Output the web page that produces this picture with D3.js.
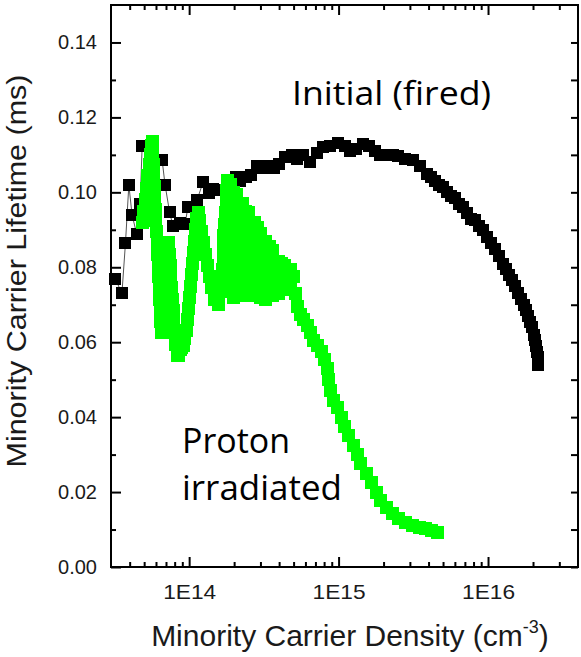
<!DOCTYPE html>
<html>
<head>
<meta charset="utf-8">
<script src="https://cdn.jsdelivr.net/npm/d3@7"></script>
<style>
  html, body { margin: 0; padding: 0; background: #fff; }
  svg { display: block; }
</style>
</head>
<body>
<svg id="chart" width="581" height="657"></svg>
<script>
// ---------------- DATA ----------------
const xMajorTicks = [1e14, 1e15, 1e16];
const xTickLabels = ["1E14", "1E15", "1E16"];
const xMinorTicks = [4e13,5e13,6e13,7e13,8e13,9e13,2e14,3e14,4e14,5e14,6e14,7e14,8e14,9e14,2e15,3e15,4e15,5e15,6e15,7e15,8e15,9e15,2e16,3e16];
const yMajorTicks = [0, 0.02, 0.04, 0.06, 0.08, 0.10, 0.12, 0.14];
const yTickLabels = ["0.00","0.02","0.04","0.06","0.08","0.10","0.12","0.14"];
const yMinorTicks = [0.01, 0.03, 0.05, 0.07, 0.09, 0.11, 0.13];

// Initial (fired): minority carrier density (cm^-3) and lifetime (ms)
const initialDensity = [3.2e13,3.55e13,3.75e13,3.95e13,4.15e13,4.45e13,4.7e13,4.85e13,5.6e13,6.6e13,6.9e13,7.4e13,7.8e13,8.7e13,9.4e13,9.8e13,1.13e14,1.24e14,1.35e14,1.45e14,1.6e14,1.75e14,1.9e14,2.05e14,2.2e14,2.4e14,2.6e14,2.85e14,3.1e14,3.4e14,3.7e14,4.0e14,4.4e14,4.9e14,5.3e14,5.8e14,6.4e14,7.2e14,7.9e14,8.7e14,9.9e14,1.1e15,1.19e15,1.3e15,1.45e15,1.6e15,1.75e15,1.9e15,2.1e15,2.3e15,2.5e15,2.8e15,3.15e15,3.5e15,
  3.91e15,4.17e15,4.42e15,4.7e15,5.0e15,5.3e15,5.66e15,6.0e15,6.4e15,6.8e15,7.2e15,7.7e15,8.2e15,8.7e15,9.26e15,9.9e15,1.05e16,1.11e16,1.19e16,1.26e16,1.32e16,1.38e16,1.45e16,1.52e16,1.59e16,1.66e16,1.74e16,1.79e16,1.86e16,1.91e16,1.97e16,2.03e16,2.06e16,2.1e16,2.13e16,2.16e16,2.16e16];
const initialLifetime = [0.077,0.073,0.0865,0.102,0.094,0.089,0.097,0.1125,0.110,0.1085,0.102,0.0947,0.091,0.0917,0.0915,0.096,0.098,0.1027,0.0997,0.101,0.1005,0.1005,0.1025,0.104,0.103,0.104,0.1045,0.107,0.1065,0.107,0.1065,0.1075,0.1095,0.110,0.109,0.110,0.108,0.1105,0.112,0.1125,0.1133,0.1125,0.111,0.1115,0.113,0.1125,0.111,0.110,0.110,0.110,0.1098,0.109,0.1085,0.107,
  0.105,0.104,0.103,0.102,0.1013,0.100,0.099,0.0985,0.097,0.096,0.0945,0.093,0.0925,0.091,0.090,0.088,0.0865,0.085,0.083,0.081,0.0795,0.078,0.0765,0.075,0.073,0.0715,0.070,0.0685,0.067,0.0655,0.064,0.062,0.0605,0.059,0.0575,0.056,0.054];

// Proton irradiated
const protonDensity = [4.85e13,4.95e13,5.08e13,5.2e13,5.3e13,5.4e13,5.48e13,5.58e13,5.66e13,5.7e13,5.75e13,5.8e13,5.85e13,5.9e13,5.95e13,6.0e13,6.05e13,6.1e13,6.15e13,6.2e13,6.25e13,6.3e13,6.35e13,6.4e13,6.45e13,6.5e13,
  6.6e13,6.7e13,6.8e13,6.9e13,7.0e13,7.1e13,7.2e13,7.24e13,7.35e13,7.45e13,7.55e13,7.6e13,7.7e13,7.8e13,7.9e13,8.0e13,8.15e13,8.31e13,8.5e13,8.7e13,8.9e13,9.1e13,9.3e13,9.55e13,9.7e13,9.85e13,1.0e14,1.02e14,1.035e14,1.05e14,1.065e14,1.08e14,1.1e14,1.12e14,1.15e14,
  1.18e14,1.21e14,1.25e14,1.29e14,1.33e14,1.37e14,1.42e14,1.48e14,1.56e14,1.61e14,1.64e14,1.67e14,1.69e14,1.7e14,1.71e14,1.73e14,1.75e14,1.77e14,1.79e14,1.8e14,
  1.88e14,1.88e14,1.88e14,1.88e14,1.88e14,1.88e14,1.88e14,1.88e14,1.88e14,
  1.97e14,1.97e14,1.97e14,1.97e14,1.97e14,1.97e14,1.97e14,1.97e14,1.97e14,
  2.07e14,2.07e14,2.07e14,2.07e14,2.07e14,2.07e14,2.07e14,2.07e14,2.07e14,
  2.26e14,2.26e14,2.26e14,2.26e14,2.26e14,2.26e14,2.26e14,2.26e14,
  2.37e14,2.37e14,2.37e14,2.37e14,2.37e14,2.37e14,2.37e14,
  2.48e14,2.48e14,2.48e14,2.48e14,2.48e14,2.48e14,2.48e14,2.48e14,
  2.72e14,2.72e14,2.72e14,2.72e14,2.72e14,2.72e14,2.72e14,
  2.85e14,2.85e14,2.85e14,2.85e14,2.85e14,2.85e14,
  2.98e14,2.98e14,2.98e14,2.98e14,2.98e14,2.98e14,
  3.26e14,3.26e14,3.26e14,3.26e14,3.26e14,3.26e14,
  3.43e14,3.43e14,3.43e14,3.43e14,3.43e14,
  3.59e14,3.59e14,3.59e14,3.59e14,3.59e14,
  3.94e14,3.94e14,3.94e14,3.94e14,
  4.13e14,4.13e14,4.13e14,
  4.33e14,4.33e14,4.33e14,
  4.74e14,4.74e14,
  4.96e14,5.12e14,5.28e14,5.53e14,5.79e14,6.15e14,6.44e14,6.75e14,7.18e14,7.64e14,8.1e14,8.37e14,8.5e14,8.77e14,9.19e14,9.78e14,1.04e15,1.10e15,1.17e15,1.25e15,1.33e15,1.41e15,1.53e15,1.65e15,1.78e15,1.92e15,2.08e15,2.28e15,2.50e15,2.80e15,3.11e15,3.46e15,3.79e15,4.17e15,4.56e15];
const protonLifetime = [0.092,0.095,0.098,0.101,0.1045,0.1075,0.110,0.1125,0.1135,0.1105,0.1075,0.1045,0.1015,0.0985,0.0955,0.0925,0.0895,0.0865,0.0835,0.0805,0.0775,0.0745,0.0715,0.0685,0.0655,0.0625,
  0.0645,0.0675,0.0705,0.0735,0.0765,0.0795,0.0825,0.0865,0.0835,0.0805,0.0775,0.0745,0.0715,0.0685,0.0655,0.0625,0.0595,0.0565,0.0565,0.058,0.0585,0.059,0.061,0.063,0.066,0.069,0.072,0.075,0.078,0.081,0.084,0.087,0.090,0.093,0.0945,
  0.0925,0.0895,0.0865,0.0835,0.0805,0.0775,0.0745,0.0715,0.070,0.0735,0.0765,0.0795,0.0825,0.0855,0.0885,0.0915,0.0945,0.0975,0.1005,0.1032,
  0.102,0.0985,0.095,0.0915,0.088,0.0845,0.081,0.0775,0.074,
  0.072,0.0755,0.079,0.0825,0.086,0.0895,0.093,0.0965,0.100,
  0.0995,0.097,0.0935,0.090,0.0865,0.083,0.0795,0.076,0.0725,
  0.0725,0.076,0.0795,0.083,0.0865,0.090,0.0935,0.097,
  0.095,0.0915,0.088,0.0845,0.081,0.0775,0.074,
  0.0725,0.076,0.0795,0.083,0.0865,0.090,0.0935,0.0945,
  0.092,0.0885,0.085,0.0815,0.078,0.0745,0.0725,
  0.073,0.0765,0.080,0.0835,0.087,0.0905,
  0.089,0.086,0.0825,0.079,0.0755,0.072,
  0.0715,0.073,0.0765,0.080,0.0835,0.087,
  0.0855,0.0835,0.080,0.0765,0.073,
  0.0725,0.076,0.0795,0.083,0.0845,
  0.0815,0.078,0.0745,0.073,
  0.074,0.0775,0.081,
  0.0805,0.0775,0.074,
  0.0795,0.0765,
  0.0775,0.073,0.0695,0.0675,0.066,0.0645,0.0625,0.0605,0.059,0.0575,0.0555,0.053,0.050,0.047,0.0445,0.0425,0.040,0.0375,0.035,0.0325,0.030,0.0275,0.025,0.0225,0.020,0.0178,0.016,0.0143,0.013,0.012,0.011,0.0105,0.0102,0.0098,0.0093];

// ---------------- CHART ----------------
const svg = d3.select("#chart");
const L = 111, R = 578, T = 5, B = 567;
const x = d3.scaleLog().domain([3e13, 4e16]).range([L, R]);
const y = d3.scaleLinear().domain([0, 0.15]).range([B, T]);

const initial = initialDensity.map((d, i) => [d, initialLifetime[i]]);
const proton = protonDensity.map((d, i) => [d, protonLifetime[i]]);

const line = d3.line().x(d => x(d[0])).y(d => y(d[1]));

// Initial (fired)
svg.append("path").datum(initial).attr("d", line)
  .attr("fill", "none").attr("stroke", "#555").attr("stroke-width", 1);
const sb = 12;
svg.append("g").attr("shape-rendering", "crispEdges").selectAll("rect").data(initial).join("rect")
  .attr("x", d => x(d[0]) - sb / 2).attr("y", d => y(d[1]) - sb / 2)
  .attr("width", sb).attr("height", sb).attr("fill", "#000");

// Proton irradiated
svg.append("path").datum(proton).attr("d", line)
  .attr("fill", "none").attr("stroke", "#00ee00").attr("stroke-width", 1);
const sg = 13;
svg.append("g").attr("shape-rendering", "crispEdges").selectAll("rect").data(proton).join("rect")
  .attr("x", d => x(d[0]) - sg / 2).attr("y", d => y(d[1]) - sg / 2)
  .attr("width", sg).attr("height", sg).attr("fill", "#00ff00");

// Axes
const tickStyle = g => {
  g.select(".domain").remove();
  g.selectAll(".tick line").attr("stroke", "#000").attr("stroke-width", 2);
};
const fontAx = "'Liberation Sans', Arial, sans-serif";

// bottom major
svg.append("g").attr("transform", `translate(0,${B})`)
  .call(d3.axisBottom(x).tickValues(xMajorTicks).tickSize(-10).tickFormat((d, i) => xTickLabels[i]).tickPadding(22))
  .call(tickStyle)
  .call(g => g.selectAll(".tick text").attr("font-family", fontAx).attr("font-size", 21)
        .attr("fill", "#1a1a1a").attr("dy", null).attr("y", 32)
        .attr("textLength", 53).attr("lengthAdjust", "spacingAndGlyphs"));
svg.append("g").attr("transform", `translate(0,${B})`)
  .call(d3.axisBottom(x).tickValues(xMinorTicks).tickSize(-5).tickFormat(""))
  .call(tickStyle);
// top
svg.append("g").attr("transform", `translate(0,${T})`)
  .call(d3.axisTop(x).tickValues(xMajorTicks).tickSize(-10).tickFormat(""))
  .call(tickStyle);
svg.append("g").attr("transform", `translate(0,${T})`)
  .call(d3.axisTop(x).tickValues(xMinorTicks).tickSize(-5).tickFormat(""))
  .call(tickStyle);
// left
svg.append("g").attr("transform", `translate(${L},0)`)
  .call(d3.axisLeft(y).tickValues(yMajorTicks).tickSize(-10).tickFormat((d, i) => yTickLabels[i]).tickPadding(14))
  .call(tickStyle)
  .call(g => g.selectAll(".tick text").attr("font-family", fontAx).attr("font-size", 20)
        .attr("fill", "#1a1a1a").attr("x", -14));
svg.append("g").attr("transform", `translate(${L},0)`)
  .call(d3.axisLeft(y).tickValues(yMinorTicks).tickSize(-5).tickFormat(""))
  .call(tickStyle);
// right
svg.append("g").attr("transform", `translate(${R},0)`)
  .call(d3.axisRight(y).tickValues(yMajorTicks.concat(yMinorTicks)).tickSize(-7).tickFormat(""))
  .call(tickStyle);

// frame
svg.append("rect").attr("x", L).attr("y", T).attr("width", R - L).attr("height", B - T)
  .attr("fill", "none").attr("stroke", "#000").attr("stroke-width", 2);

// Axis titles
const xt = svg.append("text").attr("x", 350).attr("y", 646).attr("text-anchor", "middle")
  .attr("font-family", fontAx).attr("font-size", 30).attr("fill", "#1a1a1a");
xt.append("tspan").text("Minority Carrier Density (cm");
xt.append("tspan").attr("font-size", 18).attr("dy", -13).text("-3");
xt.append("tspan").attr("dy", 13).text(")");

svg.append("text").attr("transform", "translate(26,271) rotate(-90)")
  .attr("text-anchor", "middle").attr("font-family", fontAx).attr("font-size", 27)
  .attr("fill", "#1a1a1a").attr("textLength", 393).attr("lengthAdjust", "spacingAndGlyphs")
  .text("Minority Carrier Lifetime (ms)");

// Annotations
const fontAnn = "'Open Sans', 'Noto Sans', sans-serif";
svg.append("text").attr("x", 292).attr("y", 105).attr("font-family", fontAnn)
  .attr("font-size", 33).attr("fill", "#000").attr("textLength", 199)
  .attr("lengthAdjust", "spacingAndGlyphs").text("Initial (fired)");
svg.append("text").attr("x", 182).attr("y", 453).attr("font-family", fontAnn)
  .attr("font-size", 34).attr("fill", "#000").attr("textLength", 108)
  .attr("lengthAdjust", "spacingAndGlyphs").text("Proton");
svg.append("text").attr("x", 182).attr("y", 500).attr("font-family", fontAnn)
  .attr("font-size", 34).attr("fill", "#000").attr("textLength", 160)
  .attr("lengthAdjust", "spacingAndGlyphs").text("irradiated");
</script>
</body>
</html>
